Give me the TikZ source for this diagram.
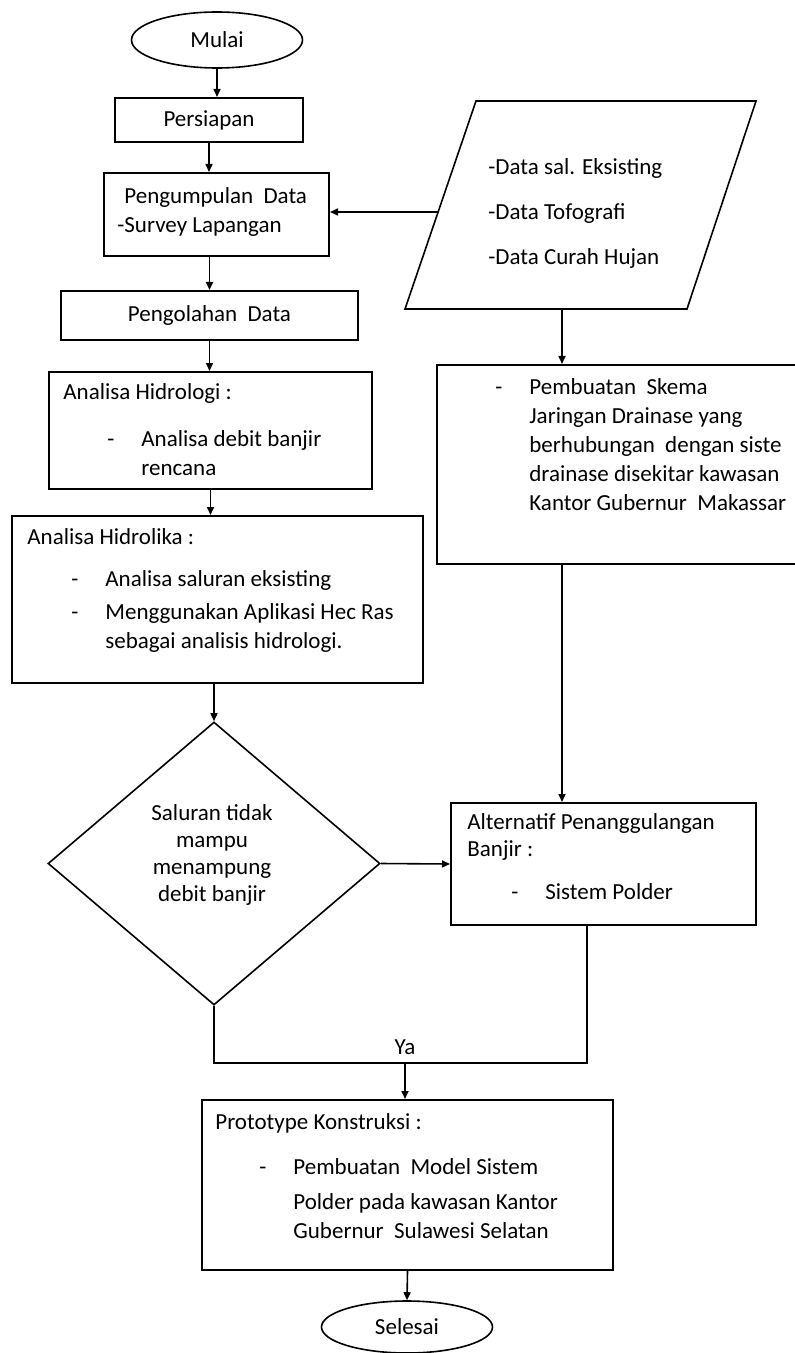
\documentclass[tikz,border=0pt]{standalone}
\usepackage{fontspec}
\setmainfont{Carlito}
\usepackage{tikz}
\usetikzlibrary{calc,arrows.meta,shapes.geometric,positioning}

% list lines as in the report: dash, then indented text
\newcommand{\dashitem}{\hspace*{22pt}\makebox[17pt][l]{-}}
\newcommand{\itemcont}{\hspace*{39pt}}

\begin{document}
\begin{tikzpicture}[x=0.5pt, y=-0.5pt,
    every node/.style={font=\fontsize{11.5}{14.5}\selectfont},
    box/.style={draw, rectangle, line width=1pt, inner sep=0pt},
    term/.style={draw, ellipse, line width=0.8pt, minimum width=85.5pt},
    txt/.style={align=left, inner sep=0pt, anchor=north west},
    link/.style={line width=0.8pt},
    arr/.style={link, -{Triangle[length=4pt,width=3.5pt]}}]

\useasboundingbox (0,0) rectangle (795,1353);

% Start
\node[term, minimum height=28pt] (mulai) at (217,40) {Mulai};

% Left column
\node[box, minimum width=94pt, minimum height=22pt] (siap) at (209,120) {Persiapan};
\node[box, minimum width=112.5pt, minimum height=41.5pt] (kumpul) at (216.5,214.5) {};
\node[txt] (kumpultxt) at (117,187) {\hspace*{3.5pt}Pengumpulan\ \ Data\\-Survey Lapangan};
\node[box, minimum width=148.5pt, minimum height=24.5pt] (olah) at (209.5,315.5) {Pengolahan\ \ Data};

\node[box, minimum width=161.5pt, minimum height=58.5pt] (hidrologi) at (210.5,430.5) {};
\node[txt] (hidrologitxt) at (63,383) {Analisa Hidrologi :\\[9pt]
    \dashitem Analisa debit banjir\\
    \itemcont rencana};

\node[box, minimum width=205.5pt, minimum height=83.5pt] (hidrolika) at (217.5,599.5) {};
\node[txt] (hidrolikatxt) at (27,528) {Analisa Hidrolika :\\[6.5pt]
    \dashitem Analisa saluran eksisting\\[2pt]
    \dashitem Menggunakan Aplikasi Hec Ras\\
    \itemcont sebagai analisis hidrologi.};

% Decision
\node[draw, diamond, line width=0.8pt, minimum width=166pt, minimum height=141.5pt, inner sep=0pt] (dec) at (214,863.5) {};
\node[align=center, inner sep=0pt, font=\fontsize{11.5}{13.5}\selectfont] (dectxt) at (212,855) {Saluran tidak\\mampu\\menampung\\debit banjir};

% Input data (parallelogram)
\draw[link] (476,101) -- (756,101) -- (687,309) -- (405,309) -- cycle;
\coordinate (dataL) at (438,212);
\coordinate (dataB) at (562,309);
\node[txt] (datatxt) at (488,158) {-Data sal. Eksisting\\[8pt]-Data Tofografi\\[8pt]-Data Curah Hujan};

% Right column
\node[box, minimum width=181pt, minimum height=99.5pt] (buat) at (618,464.5) {};
\node[txt] (buattxt) at (451,378) {\dashitem Pembuatan\ \ Skema\\
    \itemcont Jaringan Drainase yang\\
    \itemcont berhubungan\ \ dengan siste\\
    \itemcont drainase disekitar kawasan\\
    \itemcont Kantor Gubernur\ \ Makassar};

\node[box, minimum width=152.5pt, minimum height=61pt] (alt) at (603.5,864) {};
\node[txt] (alttxt) at (467,813) {Alternatif Penanggulangan\\[-1pt]
    Banjir :\\[7pt]
    \dashitem Sistem Polder};

% Result
\node[box, minimum width=205.5pt, minimum height=85pt] (proto) at (407.5,1185) {};
\node[txt] (prototxt) at (215,1113) {Prototype Konstruksi :\\[8pt]
    \dashitem Pembuatan\ \ Model Sistem\\[3pt]
    \itemcont Polder pada kawasan Kantor\\
    \itemcont Gubernur\ \ Sulawesi Selatan};

% End
\node[term, minimum height=26pt] (selesai) at (407,1327) {Selesai};

% Connectors
\draw[arr] (mulai.south) -- (mulai.south |- siap.north);
\draw[arr] (siap.south) -- (siap.south |- kumpul.north);
\draw[arr] (olah.north |- kumpul.south) -- (olah.north);
\draw[arr] (olah.south) -- (olah.south |- hidrologi.north);
\draw[arr] (hidrologi.south) -- (hidrologi.south |- hidrolika.north);
\draw[arr] (dec.north |- hidrolika.south) -- (dec.north);
\draw[arr] (dataL) -- (dataL -| kumpul.east);
\draw[arr] (dataB) -- (dataB |- buat.north);
\draw[arr] (dataB |- buat.south) -- (dataB |- alt.north);
\draw[arr] (dec.east) -- (alt.west);

\coordinate (merge) at (405,1063);
\coordinate (altout) at ($(alt.south)+(-16.5,0)$);
\draw[link] (dec.south) |- (merge) node[above=4pt, inner sep=0pt] (ya) {Ya} -| (altout);
\draw[arr] (merge) -- (merge |- proto.north);
\draw[arr] (proto.south) -- (selesai.north);

\end{tikzpicture}
\end{document}
